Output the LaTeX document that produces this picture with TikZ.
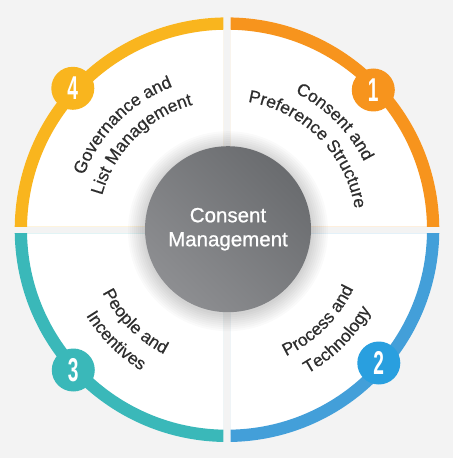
\documentclass[tikz,border=0pt]{standalone}
\usepackage{fontspec}
\setmainfont{Liberation Sans}
\newfontfamily\qfam{Liberation Sans}[FakeBold=0.45]
\newfontfamily\cfam{Liberation Sans}[FakeBold=0.9]
\usetikzlibrary{decorations.text}
\definecolor{bg}{HTML}{F3F3F3}
\definecolor{cyel}{HTML}{F9B51E}
\definecolor{corg}{HTML}{F7941D}
\definecolor{cteal}{HTML}{3AB8B9}
\definecolor{cblue}{HTML}{439FD9}
\definecolor{cblueb}{HTML}{299FDF}
\definecolor{txt}{HTML}{2E2E2E}
\definecolor{gdark}{HTML}{6A6C6F}
\definecolor{glight}{HTML}{8D8E91}
\newcommand\qfont{\qfam\fontsize{17.5}{20}\selectfont}
\newcommand\badgenum[1]{\scalebox{0.58}[1]{#1}}
\begin{document}
\begin{tikzpicture}[x=1pt,y=1pt,
  ring/.style={line width=12.3pt},
  edge/.style={line width=1pt},
  badge/.style={circle, fill=#1, minimum size=43pt, inner sep=0pt, text=white,
    font=\bfseries\fontsize{33}{33}\selectfont},
  curved/.style={decorate, decoration={text along path, text align=center,
    text={|\qfont\color{txt}|#1}}}]
\fill[bg] (-227,-228.3) rectangle (226,229.7);
\useasboundingbox (-227,-228.3) rectangle (226,229.7);
% quadrant 1 (top right)
\begin{scope}
\clip (3.7,3.7) rectangle (220,220);
\fill[white] (0,0) circle (212.3);
\draw[corg!15, edge] (3.7,205) -- (3.7,3.7) -- (205,3.7);
\draw[corg, ring] (0,0) circle (206.15);
\end{scope}
% quadrant 2 (bottom right)
\begin{scope}
\clip (3.7,-3.7) rectangle (220,-220);
\fill[white] (0,0) circle (212.3);
\draw[cblue!15, edge] (3.7,-205) -- (3.7,-3.7) -- (205,-3.7);
\draw[cblue, ring] (0,0) circle (206.15);
\end{scope}
% quadrant 3 (bottom left)
\begin{scope}
\clip (-3.7,-3.7) rectangle (-220,-220);
\fill[white] (0,0) circle (212.3);
\draw[cteal!15, edge] (-3.7,-205) -- (-3.7,-3.7) -- (-205,-3.7);
\draw[cteal, ring] (0,0) circle (206.15);
\end{scope}
% quadrant 4 (top left)
\begin{scope}
\clip (-3.7,3.7) rectangle (-220,220);
\fill[white] (0,0) circle (212.3);
\draw[cyel!15, edge] (-3.7,205) -- (-3.7,3.7) -- (-205,3.7);
\draw[cyel, ring] (0,0) circle (206.15);
\end{scope}
% curved labels
\path[curved={Consent and}] (90:153) arc[start angle=90, end angle=0, radius=153];
\path[curved={Preference Structure}] (90:129.5) arc[start angle=90, end angle=0, radius=129.5];
\path[curved={Governance and}] (180:153) arc[start angle=180, end angle=90, radius=153];
\path[curved={List Management}] (180:129.5) arc[start angle=180, end angle=90, radius=129.5];
\path[curved={People and}] (180:139.5) arc[start angle=180, end angle=270, radius=139.5];
\path[curved={Incentives}] (180:165) arc[start angle=180, end angle=270, radius=165];
\path[curved={Process and}] (270:139.5) arc[start angle=270, end angle=360, radius=139.5];
\path[curved={Technology}] (270:165) arc[start angle=270, end angle=360, radius=165];
% center shadow
\foreach \r in {84,86,...,100} {
  \fill[black, opacity=0.018] (1,-1.5) circle (\r);
}
\node[circle, minimum size=166pt, inner sep=0pt, top color=gdark, bottom color=glight,
  shading angle=-45, text=white, align=center, font=\cfam\fontsize{20.5}{24}\selectfont]
  (cm) at (1,0.5) {Consent\\Management};
% badges
\node[badge=corg] (b1) at (146.3,139.7) {\badgenum{1}};
\node[badge=cblueb] (b2) at (151.8,-133.3) {\badgenum{2}};
\node[badge=cteal] (b3) at (-153.7,-140.3) {\badgenum{3}};
\node[badge=cyel] (b4) at (-154.2,141.4) {\badgenum{4}};
\end{tikzpicture}
\end{document}
